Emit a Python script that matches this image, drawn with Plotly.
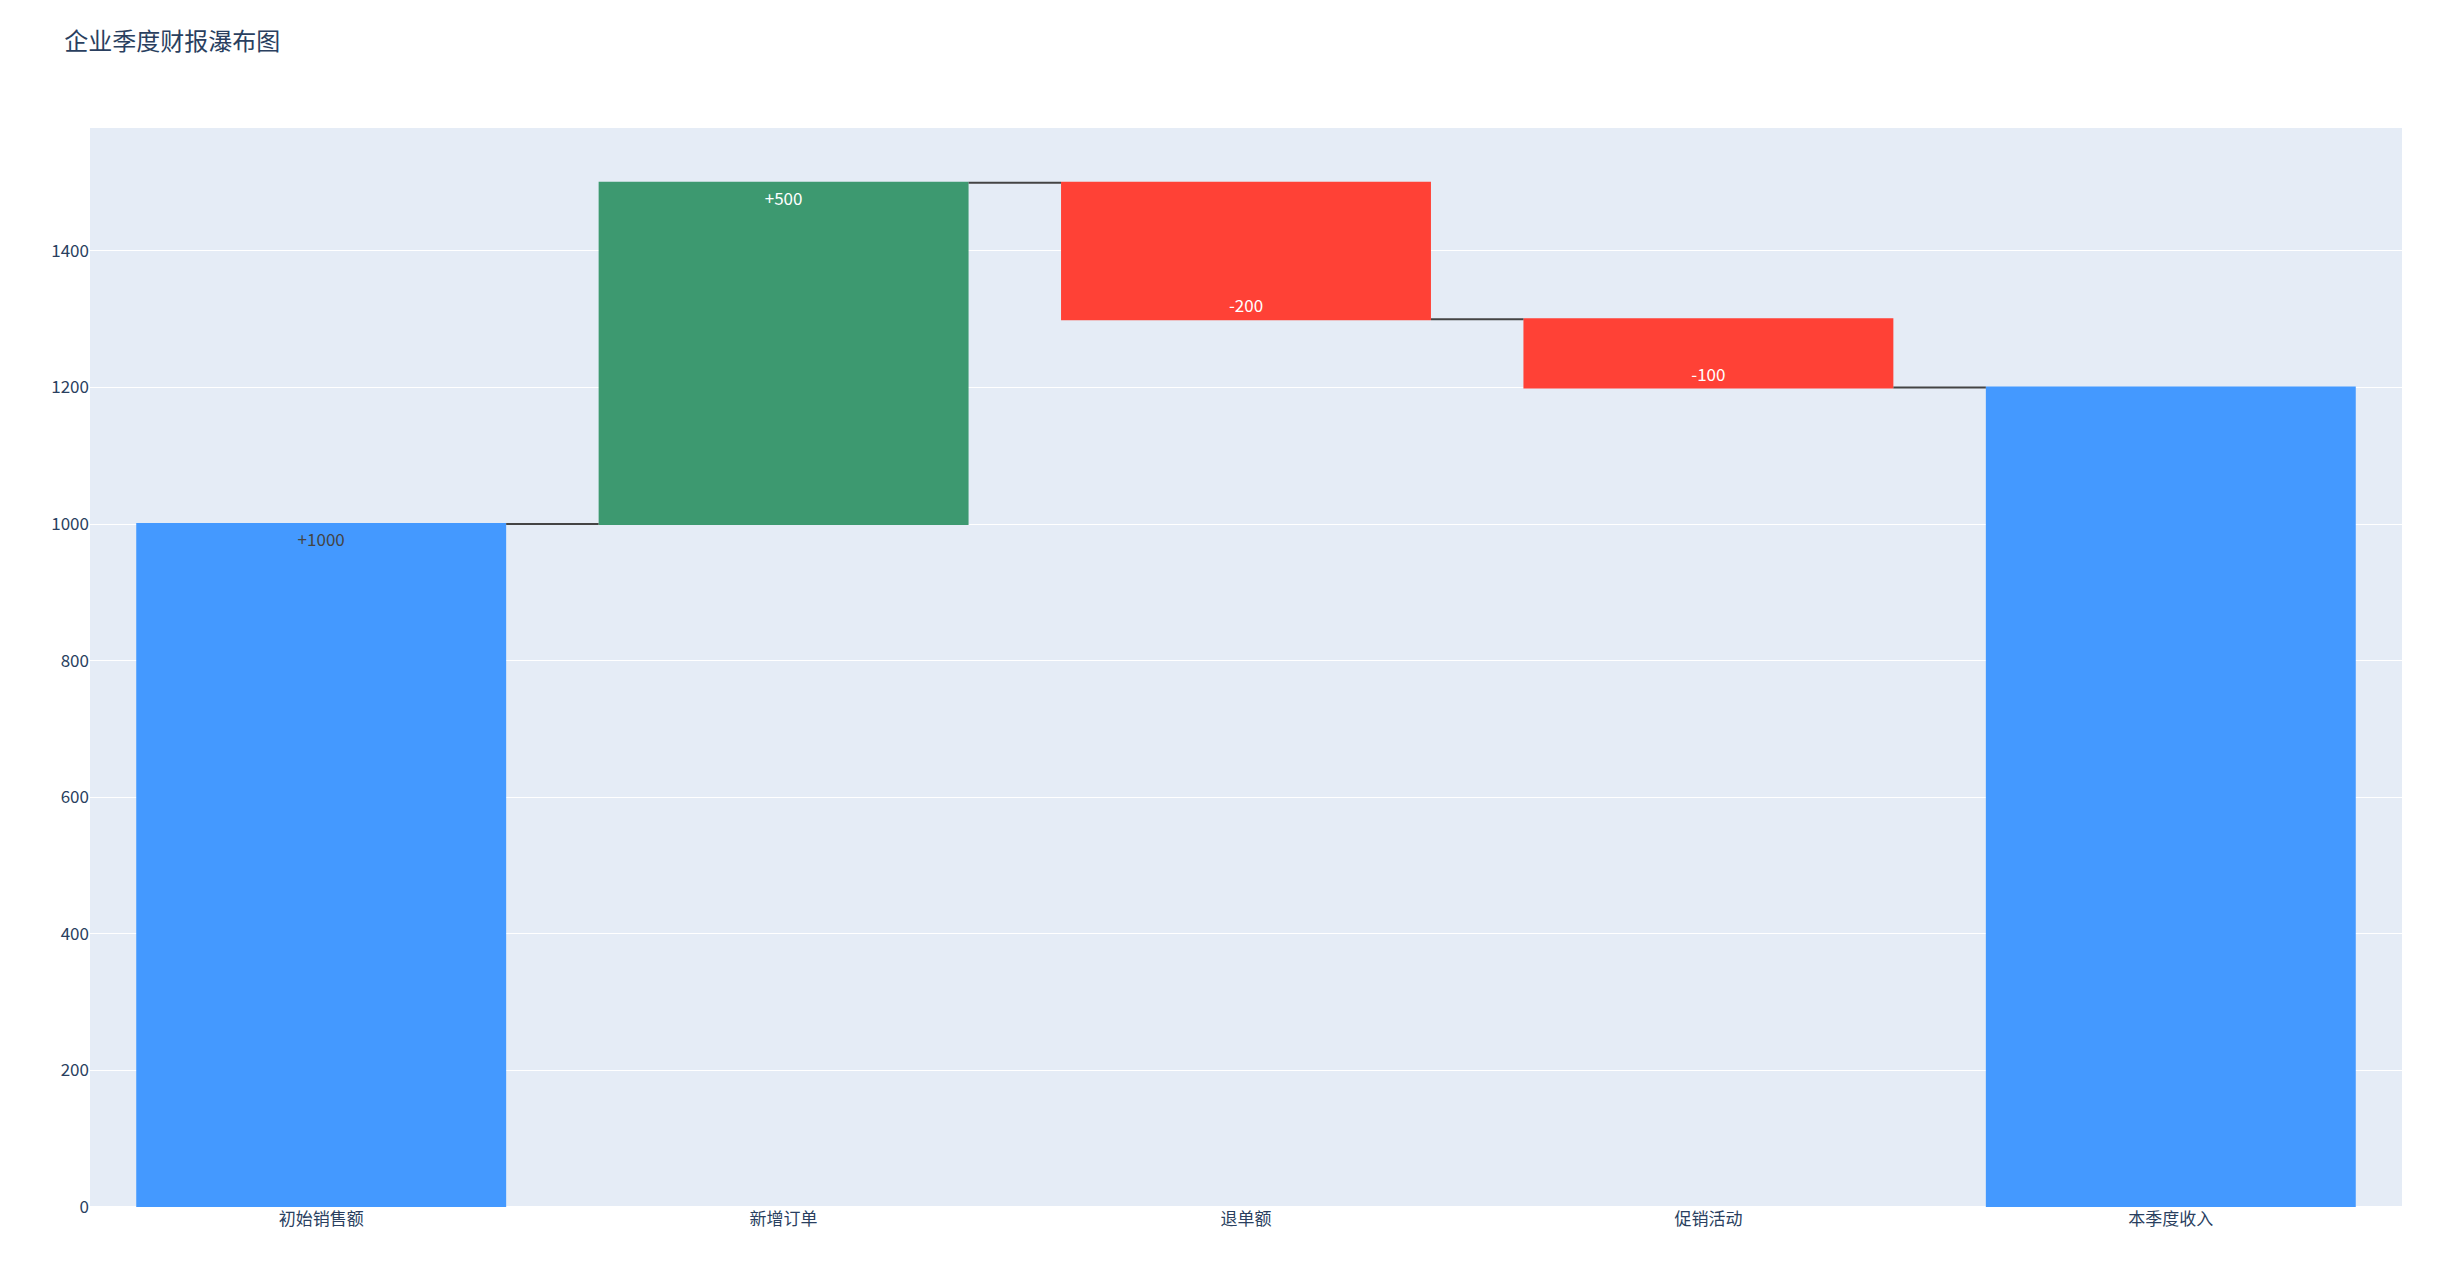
import plotly.graph_objects as go

categories = ["初始销售额", "新增订单", "退单额", "促销活动", "本季度收入"]
values = [1000, 500, -200, -100, 0]
measures = ["absolute", "relative", "relative", "relative", "total"]
labels = ["+1000", "+500", "-200", "-100", ""]

fig = go.Figure(go.Waterfall(
    x=categories, y=values, measure=measures,
    text=labels, textposition="inside", insidetextanchor="end",
    connector=dict(line=dict(color="#444", width=2)),
))
fig.update_layout(
    title=dict(text="企业季度财报瀑布图", x=0.023, y=0.98, font=dict(size=24)),
    width=2449, height=1266,
    margin=dict(l=82, r=55, t=120, b=67),
    showlegend=False,
    font=dict(family="Noto Sans CJK SC", size=17),
    yaxis=dict(range=[0, 1580], tickfont=dict(size=17)),
    xaxis=dict(tickfont=dict(size=17)),
)
fig.write_html("out.html")
